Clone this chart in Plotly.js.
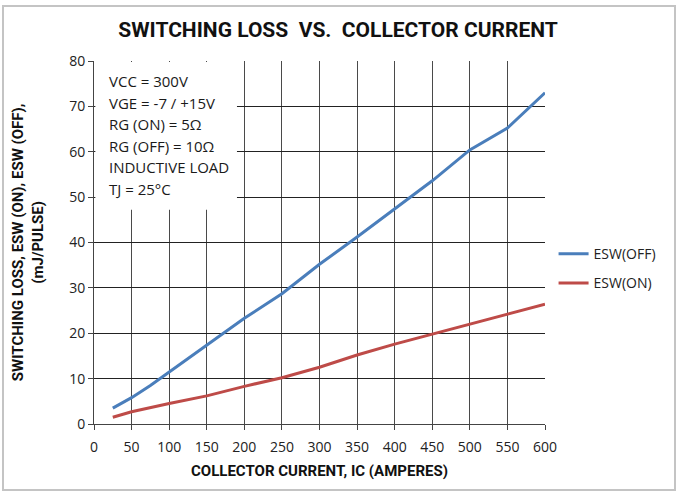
<!DOCTYPE html>
<html>
<head>
<meta charset="utf-8">
<script src="https://cdn.plot.ly/plotly-3.0.1.min.js"></script>
<style>
  html, body { margin: 0; padding: 0; background: #ffffff; }
  #wrap { position: relative; width: 676px; height: 491px; }
  #chart { width: 676px; height: 491px; }
  #frame { position: absolute; left: 2px; top: 5px; width: 670px; height: 482px;
           border: 2px solid #c4c4c4; pointer-events: none; }
</style>
</head>
<body>
<div id="wrap">
  <div id="chart"></div>
  <div id="frame"></div>
</div>
<script>
// Collector current (A)
const currentOff = [25, 50, 75, 100, 150, 200, 250, 300, 350, 400, 450, 500, 550, 600];
const eswOff     = [3.5, 5.8, 8.5, 11.5, 17.3, 23.3, 28.7, 35.2, 41.2, 47.5, 53.6, 60.4, 65.2, 73.0];
const currentOn  = [25, 50, 100, 150, 200, 250, 300, 350, 400, 450, 500, 550, 600];
const eswOn      = [1.5, 2.7, 4.5, 6.2, 8.3, 10.2, 12.5, 15.2, 17.6, 19.8, 22.0, 24.3, 26.4];
const xTicks = [0, 50, 100, 150, 200, 250, 300, 350, 400, 450, 500, 550, 600];
const yTicks = [0, 10, 20, 30, 40, 50, 60, 70, 80];
const conditions = ["VCC = 300V", "VGE = -7 / +15V", "RG (ON) = 5Ω", "RG (OFF) = 10Ω", "INDUCTIVE LOAD", "TJ = 25°C"];

const baseFont = "Open Sans, Noto Sans, sans-serif";
const boldFont = "Roboto, Open Sans, sans-serif";

const traces = [
  { x: currentOff, y: eswOff, type: 'scatter', mode: 'lines', name: 'ESW(OFF)',
    legendgroup: 'off', line: { color: '#4a7ebb', width: 3 } },
  { x: currentOn, y: eswOn, type: 'scatter', mode: 'lines', name: 'ESW(ON)',
    legendgroup: 'on', line: { color: '#be4b48', width: 3 } }
];

const annotations = conditions.map((t, i) => ({
  xref: 'paper', yref: 'paper', x: 0.029, y: 0.945 - i * 0.0595,
  xanchor: 'left', yanchor: 'middle', showarrow: false, text: t,
  font: { family: baseFont, size: 15, color: '#1a1a1a' }
}));

annotations.push({
  xref: 'paper', yref: 'paper', x: -0.147, y: 0.5, xanchor: 'center', yanchor: 'middle',
  textangle: -90, showarrow: false,
  text: '<b>SWITCHING LOSS, ESW (ON), ESW (OFF),</b><br><b>(mJ/PULSE)</b>',
  font: { family: boldFont, size: 15, color: '#111' }
});

const layout = {
  width: 676, height: 491,
  paper_bgcolor: '#ffffff', plot_bgcolor: '#ffffff',
  margin: { l: 94, r: 131, t: 61, b: 67 },
  title: { text: '<b>SWITCHING LOSS&nbsp;&nbsp;VS.&nbsp;&nbsp;COLLECTOR CURRENT</b>',
           x: 0.5, xref: 'container', xanchor: 'center', y: 0.94, yref: 'container', yanchor: 'middle',
           font: { family: boldFont, size: 21, color: '#111' } },
  xaxis: {
    range: [0, 600], tickvals: xTicks, ticktext: xTicks.map(String),
    showgrid: true, gridcolor: '#4a4a4a', gridwidth: 1,
    showline: true, linecolor: '#444', linewidth: 1,
    ticks: 'outside', ticklen: 5, tickcolor: '#444', ticklabelstandoff: 5,
    zeroline: false, tickfont: { family: baseFont, size: 14, color: '#222' },
    title: { text: '<b>COLLECTOR CURRENT, IC (AMPERES)</b>', standoff: 10,
             font: { family: boldFont, size: 15, color: '#111' } }
  },
  yaxis: {
    range: [0, 80], tickvals: yTicks, ticktext: yTicks.map(String),
    showgrid: true, gridcolor: '#222', gridwidth: 1,
    showline: true, linecolor: '#444', linewidth: 1,
    ticks: 'outside', ticklen: 5, tickcolor: '#444',
    zeroline: false, tickfont: { family: baseFont, size: 14, color: '#222' }
  },
  shapes: [
    { type: 'rect', xref: 'paper', yref: 'paper', x0: 0.003, x1: 0.317, y0: 0.59, y1: 0.997,
      fillcolor: '#ffffff', line: { width: 0 }, layer: 'above' }
  ],
  annotations: annotations,
  showlegend: true,
  legend: { x: 1.019, y: 0.512, xanchor: 'left', yanchor: 'top', tracegroupgap: 8,
            font: { family: baseFont, size: 14, color: '#222' }, bgcolor: 'rgba(0,0,0,0)' }
};

Plotly.newPlot('chart', traces, layout, { staticPlot: true, displayModeBar: false });
</script>
</body>
</html>
